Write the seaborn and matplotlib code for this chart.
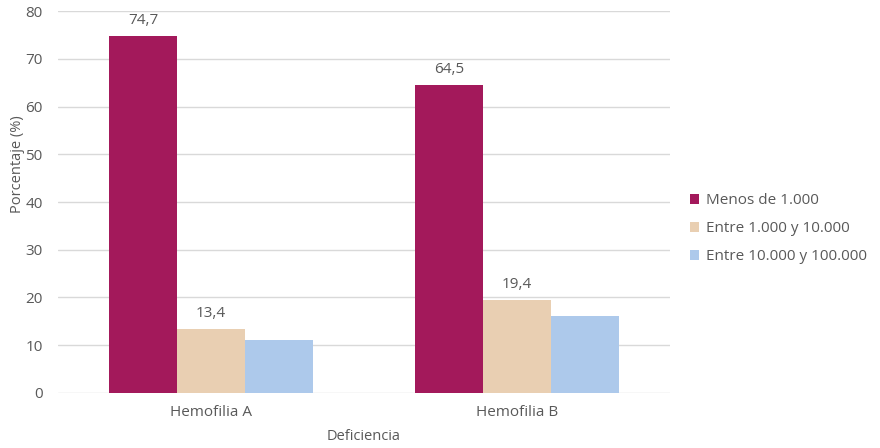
import pandas as pd
import matplotlib.pyplot as plt
import seaborn as sns

# Chart data
deficiencias = ['Hemofilia A', 'Hemofilia B']
series = ['Menos de 1.000', 'Entre 1.000 y 10.000', 'Entre 10.000 y 100.000']
menos_1000 = [74.7, 64.5]
entre_1000_10000 = [13.4, 19.4]
entre_10000_100000 = [11.2, 16.2]
colores = ['#A3195B', '#E9CFB2', '#ADC9EB']

rows = []
for serie, vals in zip(series, [menos_1000, entre_1000_10000, entre_10000_100000]):
    for d, v in zip(deficiencias, vals):
        rows.append({'Deficiencia': d, 'Serie': serie, 'Porcentaje': v})
df = pd.DataFrame(rows)

sns.set_theme(style="white")
plt.rcParams['font.family'] = ['Open Sans', 'DejaVu Sans']
gris = '#595959'

fig = plt.figure(figsize=(8.8, 4.48), dpi=100)
ax = fig.add_axes([0.066, 0.1228, 0.695, 0.8526])

sns.barplot(data=df, x='Deficiencia', y='Porcentaje', hue='Serie',
            hue_order=series, order=deficiencias, palette=colores,
            width=0.667, gap=0, saturation=1, ax=ax, legend=True,
            linewidth=0)

# data labels only on first two series
for i, cont in enumerate(ax.containers[:2]):
    labels = [f'{v:.1f}'.replace('.', ',') for v in cont.datavalues]
    ax.bar_label(cont, labels=labels, padding=6, fontsize=11, color=gris)

ax.set_ylim(0, 80)
ax.set_xlim(-0.5, 1.5)
ax.set_yticks(range(0, 81, 10))
ax.yaxis.grid(True, color='#D9D9D9', linewidth=1)
ax.set_axisbelow(True)
for s in ax.spines.values():
    s.set_visible(False)
ax.tick_params(axis='both', length=0, labelsize=11, labelcolor=gris)
ax.tick_params(axis='y', pad=11)
ax.tick_params(axis='x', pad=9)
ax.set_ylabel('')
ax.set_xlabel('Deficiencia', fontsize=10.5, color=gris, labelpad=6)
fig.text(0.02, 1 - 164 / 448, 'Porcentaje (%)', rotation=90, va='center',
         ha='center', fontsize=10.5, color=gris)

leg = ax.legend(loc='center left', bbox_to_anchor=(1.01, 0.43), frameon=False,
                fontsize=11, handlelength=0.65, handleheight=0.65,
                handletextpad=0.4, labelspacing=0.85, labelcolor=gris)

fig.savefig('out.png', dpi=100)
